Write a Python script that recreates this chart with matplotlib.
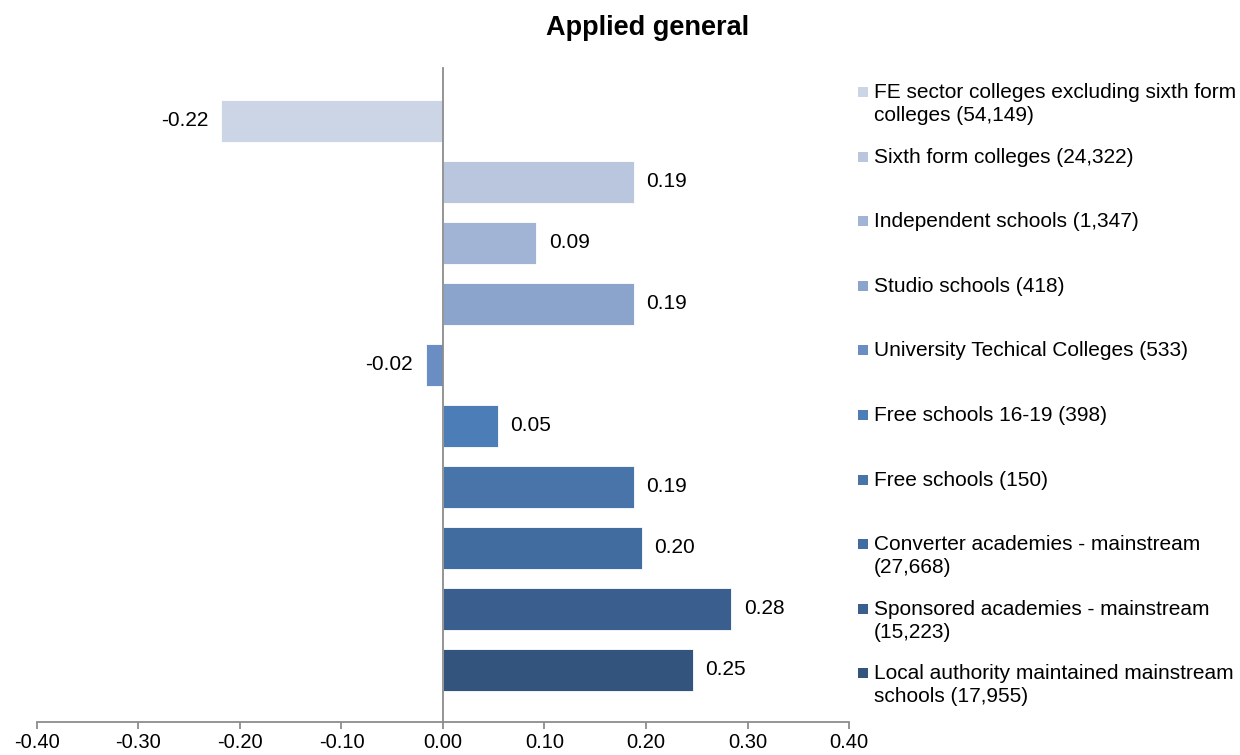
import matplotlib
matplotlib.use('Agg')
import matplotlib.pyplot as plt
from matplotlib.patches import Rectangle

plt.rcParams['font.family'] = ['Liberation Sans', 'DejaVu Sans']

# === DATA === #
categories = [
    'FE sector colleges excluding sixth form\ncolleges (54,149)',
    'Sixth form colleges (24,322)',
    'Independent schools (1,347)',
    'Studio schools (418)',
    'University Techical Colleges (533)',
    'Free schools 16-19 (398)',
    'Free schools (150)',
    'Converter academies - mainstream\n(27,668)',
    'Sponsored academies - mainstream\n(15,223)',
    'Local authority maintained mainstream\nschools (17,955)',
]
values = [-0.219, 0.188, 0.092, 0.188, -0.017, 0.054, 0.188, 0.196, 0.284, 0.246]
value_labels = ['-0.22', '0.19', '0.09', '0.19', '-0.02', '0.05', '0.19', '0.20', '0.28', '0.25']
colors = ['#CCD5E6', '#B9C6DE', '#A2B4D5', '#8AA4CC', '#6A8DC4',
          '#4D7DB7', '#4874AA', '#416C9F', '#3A5E8E', '#33557D']
xticks = [-0.4, -0.3, -0.2, -0.1, 0.0, 0.1, 0.2, 0.3, 0.4]


def plot_chart():
    fig = plt.figure(figsize=(12.4, 7.55), dpi=100)
    ax = fig.add_axes([0.0298, 0.0437, 0.6549, 0.8663])

    ypos = list(range(len(values)))
    ax.barh(ypos, values, height=0.69, color=colors, edgecolor='white', linewidth=0.6)

    for y, v, lab in zip(ypos, values, value_labels):
        if v >= 0:
            ax.annotate(lab, (v, y), xytext=(9, 0), textcoords='offset points',
                        ha='left', va='center', fontsize=15)
        else:
            ax.annotate(lab, (v, y), xytext=(-9, 0), textcoords='offset points',
                        ha='right', va='center', fontsize=15)

    ax.set_xlim(-0.4, 0.4)
    ax.set_ylim(9.86, -0.87)
    ax.set_xticks(xticks)
    ax.set_xticklabels(['%.2f' % t for t in xticks], fontsize=14.5)
    ax.set_yticks([])

    for s in ['top', 'right']:
        ax.spines[s].set_visible(False)
    ax.spines['left'].set_position(('data', 0))
    ax.spines['left'].set_color('#8C8C8C')
    ax.spines['bottom'].set_color('#8C8C8C')
    ax.spines['left'].set_linewidth(1.3)
    ax.spines['bottom'].set_linewidth(1.3)
    ax.tick_params(axis='x', direction='out', length=5, width=1.3, color='#8C8C8C', pad=3)

    fig.text(648 / 1240, 1 - 28 / 755, 'Applied general', ha='center', va='center',
             fontsize=19.5, fontweight='bold')

    # legend drawn by hand, Excel style
    W, H = 1240.0, 755.0
    for i, (lab, c) in enumerate(zip(categories, colors)):
        yc = 92 + 64.6 * i
        fig.patches.append(Rectangle((858 / W, 1 - (yc + 5) / H), 10 / W, 10 / H,
                                     transform=fig.transFigure, facecolor=c,
                                     edgecolor='none'))
        fig.text(874 / W, 1 - (yc - 9) / H, lab, ha='left', va='top',
                 fontsize=15, linespacing=1.27)

    fig.savefig('out.png', dpi=100)


def main():
    plot_chart()


if __name__ == '__main__': main()
